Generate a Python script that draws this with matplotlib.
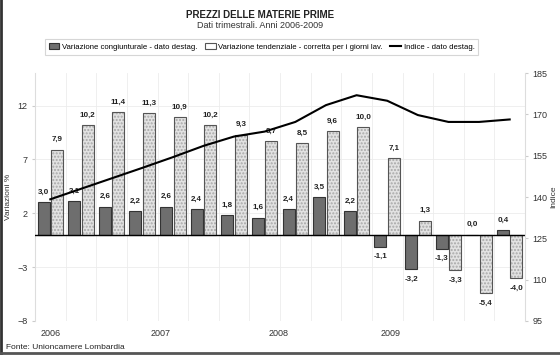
import numpy as np
import matplotlib
matplotlib.use('Agg')
import matplotlib.pyplot as plt
from matplotlib.patches import Patch
from matplotlib.lines import Line2D

plt.rcParams['font.family'] = ['Liberation Sans', 'DejaVu Sans']

# Data (quarters 2006-2009)
quarters = ['2006Q1', '2006Q2', '2006Q3', '2006Q4', '2007Q1', '2007Q2', '2007Q3', '2007Q4',
            '2008Q1', '2008Q2', '2008Q3', '2008Q4', '2009Q1', '2009Q2', '2009Q3', '2009Q4']
congiunturale = [3.0, 3.1, 2.6, 2.2, 2.6, 2.4, 1.8, 1.6, 2.4, 3.5, 2.2, -1.1, -3.2, -1.3, 0.0, 0.4]
tendenziale = [7.9, 10.2, 11.4, 11.3, 10.9, 10.2, 9.3, 8.7, 8.5, 9.6, 10.0, 7.1, 1.3, -3.3, -5.4, -4.0]
indice = [139.2, 143.0, 146.8, 150.6, 154.5, 158.6, 162.0, 163.8,
          167.3, 173.4, 177.0, 175.0, 169.8, 167.3, 167.3, 168.2]
year_labels = ['2006', '2007', '2008', '2009']
year_pos = [0.0, 3.6, 7.45, 11.1]

x = np.arange(len(quarters))
w = 0.39
dark = '#6e6e6e'
light = '#e2e2e2'

fig = plt.figure(figsize=(5.6, 3.55), dpi=100)
ax = fig.add_axes([0.0625, 0.0958, 0.875, 0.698])
ax2 = ax.twinx()

# grid
for v in [-8, -3, 2, 7, 12]:
    ax.axhline(v, color='#ececec', lw=0.6, zorder=0)
for b in np.arange(0.5, 15.5, 1):
    ax.axvline(b, color='#ececec', lw=0.6, zorder=0)

ax.bar(x - 0.22, congiunturale, w, color=dark, edgecolor='#333333', lw=0.8, zorder=2)
ax.bar(x + 0.22, tendenziale, w, color=light, edgecolor='#a8a8a8', lw=0, hatch='.....', zorder=2)
ax.bar(x + 0.22, tendenziale, w, fill=False, edgecolor='#555555', lw=0.8, zorder=3)
ax.axhline(0, color='black', lw=1.0, zorder=4)

def lab(v):
    return ('%.1f' % v).replace('.', ',')

for xi, v in zip(x - 0.22, congiunturale):
    off = 0.6 if v >= 0 else -0.6
    ax.text(xi, v + off, lab(v), ha='center', va='bottom' if v >= 0 else 'top',
            fontsize=5.8, fontweight='bold', color='#222222', zorder=5)
for xi, v in zip(x + 0.22, tendenziale):
    off = 0.6 if v >= 0 else -0.6
    ax.text(xi, v + off, lab(v), ha='center', va='bottom' if v >= 0 else 'top',
            fontsize=5.8, fontweight='bold', color='#222222', zorder=5)

ax2.plot(x, indice, color='black', lw=1.5, zorder=6)

ax.set_xlim(-0.5, 15.5)
ax.set_ylim(-8, 15)
ax2.set_ylim(95, 185)
ax.set_yticks([-8, -3, 2, 7, 12])
ax2.set_yticks([95, 110, 125, 140, 155, 170, 185])
ax.set_xticks(year_pos)
ax.set_xticklabels(year_labels)
for a in (ax, ax2):
    a.tick_params(labelsize=6.5, length=2, color='#cccccc', colors='#333333')
    for s in a.spines.values():
        s.set_visible(False)
ax.spines['left'].set_visible(True)
ax.spines['left'].set_color('#dddddd')
ax2.spines['right'].set_visible(True)
ax2.spines['right'].set_color('#dddddd')
ax.tick_params(axis='x', length=0, pad=6)
ax.set_ylabel('Variazioni %', fontsize=6, color='#333333', labelpad=4)
ax2.set_ylabel('Indice', fontsize=6, color='#333333', labelpad=2)

fig.text(0.465, 0.957, 'PREZZI DELLE MATERIE PRIME', ha='center', va='center',
         fontsize=7, fontweight='bold', color='#222222')
fig.text(0.465, 0.928, 'Dati trimestrali. Anni 2006-2009', ha='center', va='center',
         fontsize=6.5, color='#333333')

handles = [Patch(facecolor=dark, edgecolor='#333333', lw=0.8),
           Patch(facecolor='white', edgecolor='#555555', lw=0.8),
           Line2D([0], [0], color='black', lw=1.5)]
labels = ['Variazione congiunturale - dato destag.',
          'Variazione tendenziale - corretta per i giorni lav.',
          'Indice - dato destag.']
leg = fig.legend(handles, labels, loc='center', bbox_to_anchor=(0.467, 0.868), ncol=3,
                 fontsize=5.6, frameon=True, fancybox=False, handlelength=1.4,
                 handleheight=0.8, handletextpad=0.3, columnspacing=1.0,
                 borderpad=0.5, edgecolor='#cccccc')
leg.get_frame().set_linewidth(0.8)

fig.text(0.01, 0.022, 'Fonte: Unioncamere Lombardia', ha='left', va='center',
         fontsize=6, color='#222222')

# figure border
fig.add_artist(Line2D([0.002, 0.002], [0, 1], color='#333333', lw=2, transform=fig.transFigure))
fig.add_artist(Line2D([0, 1], [0.006, 0.006], color='#555555', lw=2, transform=fig.transFigure))

fig.savefig('out.png', dpi=100)
